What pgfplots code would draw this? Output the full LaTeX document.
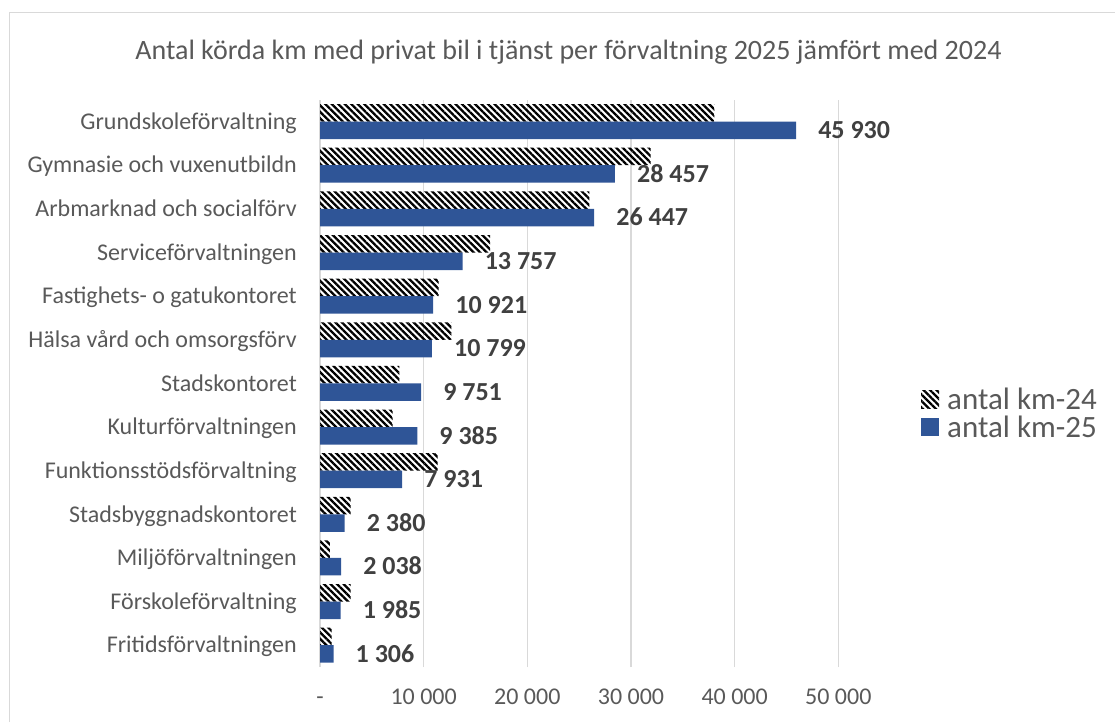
\documentclass[border=0pt]{standalone}
\usepackage{fontspec}
\setmainfont{Carlito}
\usepackage{pgfplots}
\pgfplotsset{compat=1.18}
\usepackage{pgfplotstable}
\usetikzlibrary{patterns.meta}

\definecolor{barblue}{HTML}{2F5597}
\definecolor{txtgray}{HTML}{595959}
\definecolor{lblgray}{HTML}{404040}
\definecolor{gridgray}{HTML}{D9D9D9}

% y = 12 is the top category
\pgfplotstableread{
y  km24   km25
12 38040  45930
11 31900  28457
10 25980  26447
9  16400  13757
8  11450  10921
7  12670  10799
6  7650   9751
5  7010   9385
4  11350  7931
3  2960   2380
2  960    2038
1  2960   1985
0  1130   1306
}\kmdata

\begin{document}
\begin{tikzpicture}
\useasboundingbox (0,0) rectangle (1115pt,-722pt);
\draw[gridgray, line width=1.2pt] (9.5pt,-722pt) -- (9.5pt,-12.5pt) -- (1115pt,-12.5pt);
\node[anchor=base, text=txtgray, inner sep=0pt, font=\fontsize{28}{32}\selectfont]
  at (568.5pt,-60pt) {Antal körda km med privat bil i tjänst per förvaltning 2025 jämfört med 2024};

\begin{axis}[
    at={(320pt,-667pt)}, anchor=south west,
    scale only axis,
    width=518.3pt, height=567.2pt,
    xbar, bar width=17.5pt,
    xmin=0, xmax=50000,
    ymin=-0.5, ymax=12.5,
    xtick={0,10000,20000,30000,40000,50000},
    xticklabels={-,10 000,20 000,30 000,40 000,50 000},
    ytick={0,...,12},
    yticklabels={Fritidsförvaltningen,Förskoleförvaltning,Miljöförvaltningen,Stadsbyggnadskontoret,Funktionsstödsförvaltning,Kulturförvaltningen,Stadskontoret,Hälsa vård och omsorgsförv,Fastighets- o gatukontoret,Serviceförvaltningen,Arbmarknad och socialförv,Gymnasie och vuxenutbildn,Grundskoleförvaltning},
    xticklabel style={font=\fontsize{24}{28}\selectfont, text=txtgray, inner sep=0pt,
        anchor=north, text height=15.2pt, text depth=0pt, yshift=-22.5pt},
    yticklabel style={font=\fontsize{24}{28}\selectfont, text=txtgray, inner sep=0pt,
        anchor=east, text height=15.5pt, text depth=0pt, xshift=-23pt},
    major tick length=0pt,
    tick style={draw=none},
    axis line style={draw=none},
    xmajorgrids,
    major grid style={gridgray, line width=1.5pt},
    /pgf/number format/assume math mode=true,
    legend style={at={(1.1596,0.4478)}, anchor=west, draw=none, fill=none,
        inner sep=0pt, row sep=8pt,
        font=\fontsize{31}{31}\selectfont, text=txtgray,
        nodes={inner sep=0pt, text height=20pt, text depth=0pt},
        /tikz/every odd column/.append style={column sep=8pt}},
    legend cell align=left,
    legend image code/.code={\path[#1] (0pt,-9pt) rectangle (18pt,9pt);},
]
\addplot[draw=none, pattern={Lines[angle=-45,distance=4.6pt,line width=2.3pt]},
    pattern color=black, bar shift=8.75pt]
    table[x=km24, y=y] {\kmdata};
\addplot[draw=none, fill=barblue, bar shift=-8.75pt,
    point meta=x,
    nodes near coords={\pgfmathprintnumber[1000 sep={\ }]{\pgfplotspointmeta}},
    nodes near coords style={anchor=west, inner sep=0pt, xshift=22pt,
        font=\bfseries\fontsize{26}{30}\selectfont, text=lblgray,
        text height=16.5pt, text depth=0pt}]
    table[x=km25, y=y] {\kmdata};
\legend{antal km-24, antal km-25}
\end{axis}
\end{tikzpicture}
\end{document}
